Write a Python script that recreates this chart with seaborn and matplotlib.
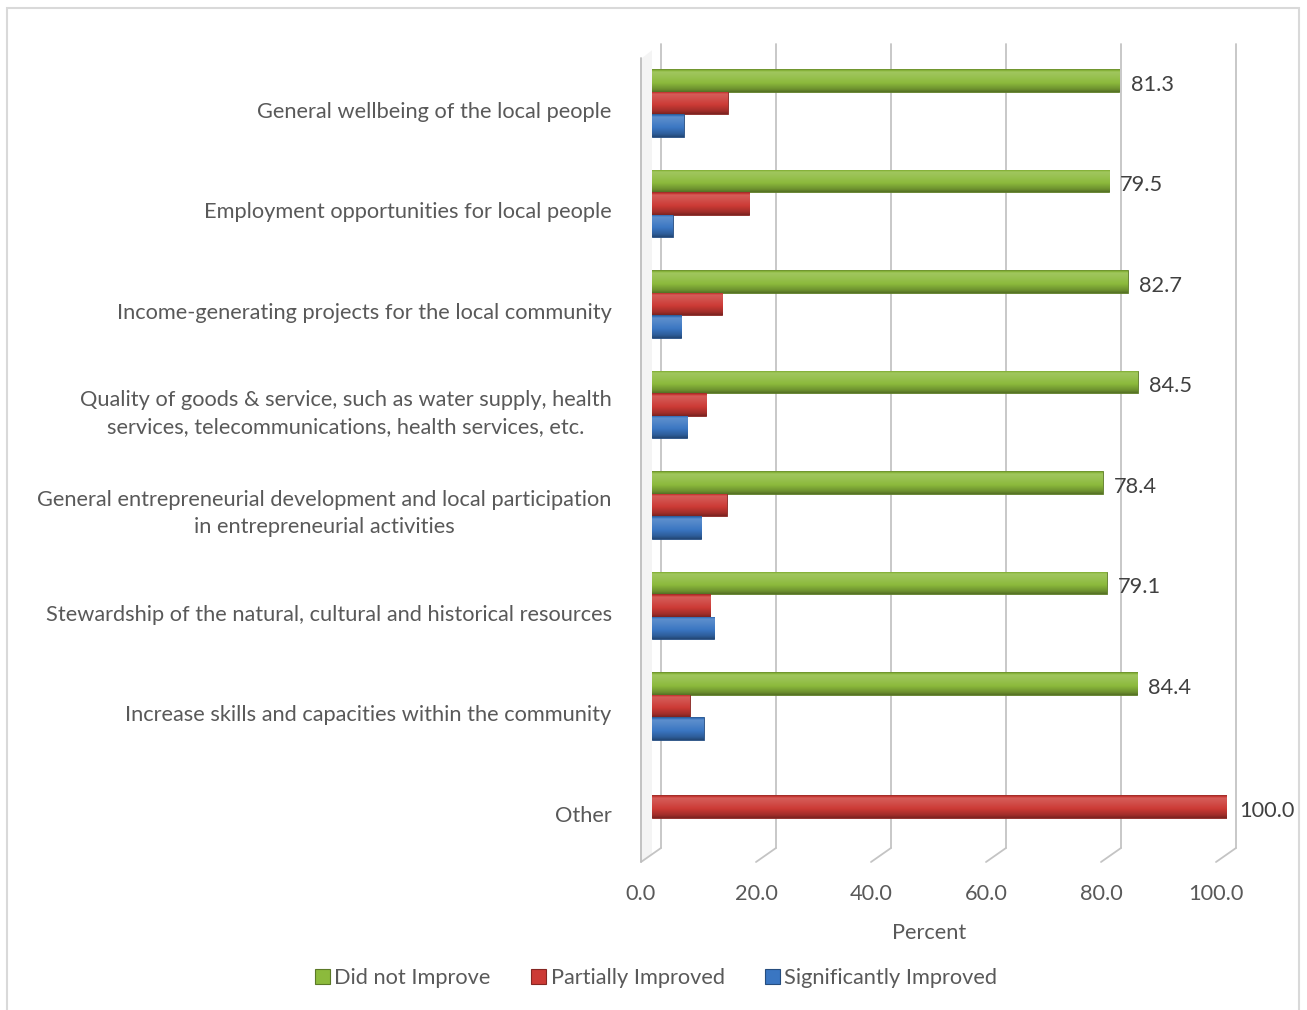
import numpy as np
import pandas as pd
import matplotlib
matplotlib.use("Agg")
import matplotlib.pyplot as plt
import matplotlib.transforms as mtransforms
from matplotlib.colors import to_rgb
from matplotlib.patches import Patch, FancyBboxPatch, Polygon
from matplotlib.lines import Line2D
import seaborn as sns

# ---- data -------------------------------------------------------------
categories = [
    "General wellbeing of the local people",
    "Employment opportunities for local people",
    "Income-generating projects for the local community",
    "Quality of goods & service, such as water supply, health\nservices, telecommunications, health services, etc.",
    "General entrepreneurial development and local participation\nin entrepreneurial activities",
    "Stewardship of the natural, cultural and historical resources",
    "Increase skills and capacities within the community",
    "Other",
]
series_names = ["Did not Improve", "Partially Improved", "Significantly Improved"]
did_not_improve = [81.3, 79.5, 82.7, 84.5, 78.4, 79.1, 84.4, 0.0]
partially_improved = [13.2, 16.9, 12.2, 9.4, 13.0, 10.1, 6.6, 100.0]
significantly_improved = [5.5, 3.6, 5.1, 6.1, 8.6, 10.8, 9.0, 0.0]
x_ticks = [0, 20, 40, 60, 80, 100]
x_label = "Percent"

series_colors = ["#8CBA3C", "#CC3A35", "#3A76C2"]
text_color = "#595959"
grid_color = "#C4C4C4"
FS = 15.7

df = pd.DataFrame({
    "category": np.repeat(categories, 3),
    "series": series_names * len(categories),
    "value": np.ravel(np.column_stack([did_not_improve, partially_improved,
                                       significantly_improved])),
})

# ---- figure -----------------------------------------------------------
sns.set_theme(style="white")
plt.rcParams["font.family"] = ["Lato", "DejaVu Sans"]

W, H, DPI = 1307, 1010, 100
fig = plt.figure(figsize=(W / DPI, H / DPI), dpi=DPI)
fig.patch.set_facecolor("white")

# plot area in pixels: x 652..1227, y 44..862
ax = fig.add_axes([652 / W, 1 - 862 / H, 575 / W, 818 / H])

sns.barplot(data=df, y="category", x="value", hue="series",
            hue_order=series_names, order=categories, orient="h",
            palette=series_colors, width=0.672, legend=False,
            saturation=1, ax=ax)

ax.set_xlim(0, 100)
ax.set_ylim(7.552, -0.587)
for s in ax.spines.values():
    s.set_visible(False)
ax.grid(False)


def shade(c, f):
    r = np.array(to_rgb(c))
    if f >= 0:
        return tuple(r + (1 - r) * f)
    return tuple(r * (1 + f))


# cylinder-like shading on every bar
bar_patches = [p for p in ax.patches if p.get_width() > 0]
for p in bar_patches:
    base = p.get_facecolor()[:3]
    x0, y0 = p.get_x(), p.get_y()
    w, h = p.get_width(), p.get_height()
    t = np.linspace(0, 1, 64)
    prof = np.interp(t, [0, 0.12, 0.3, 0.6, 0.88, 1.0],
                     [-0.25, 0.18, 0.12, 0.0, -0.22, -0.4])
    img = np.array([shade(base, f) for f in prof])[:, None, :]
    im = ax.imshow(img, extent=(x0, x0 + w, y0 + h, y0), aspect="auto",
                   origin="upper", zorder=3, interpolation="bilinear")
    im.set_clip_path(p)
    p.set_edgecolor(shade(base, -0.35))
    p.set_linewidth(0.6)
    p.set_zorder(2)

ax.set_xlim(0, 100)
ax.set_ylim(7.552, -0.587)

# ---- 3D-style back wall gridlines -------------------------------------
px = 1.0 / DPI
blend = mtransforms.blended_transform_factory(ax.transData, ax.transAxes)
back_y0 = 14 / 818
ax_bottom = ax.transAxes.transform((0, 0))[1]
ax_top = ax.transAxes.transform((0, 1))[1]
for v in x_ticks:
    tr = blend + mtransforms.ScaledTranslation(9 * px, 0, fig.dpi_scale_trans)
    ax.add_line(Line2D([v, v], [back_y0, 1.0], transform=tr, color=grid_color,
                       lw=1.3, zorder=1, clip_on=False))
    # slanted foot of each gridline
    x_disp = ax.transData.transform((v, 0))[0]
    fig.add_artist(Line2D([(x_disp - 11) / W, (x_disp + 9) / W],
                          [ax_bottom / H, (ax_bottom + 14) / H],
                          transform=fig.transFigure, color=grid_color, lw=1.3))

# left side wall (front edge + panel)
x0_disp = ax.transData.transform((0, 0))[0]
fig.add_artist(Line2D([(x0_disp - 11) / W, (x0_disp - 11) / W],
                      [ax_bottom / H, (ax_top - 14) / H],
                      transform=fig.transFigure, color="#BDBDBD", lw=1.3))
fig.add_artist(Polygon([((x0_disp - 10) / W, ax_bottom / H),
                        ((x0_disp + 8) / W, (ax_bottom + 14) / H),
                        ((x0_disp + 8) / W, ax_top / H),
                        ((x0_disp - 10) / W, (ax_top - 14) / H)],
                       closed=True, transform=fig.transFigure,
                       facecolor="#F4F4F4", edgecolor="none", zorder=0))

# ---- labels -----------------------------------------------------------
ax.set_xticks(x_ticks)
ax.set_xticklabels([f"{v:.1f}" for v in x_ticks])
ax.tick_params(axis="x", length=0, pad=16, labelsize=FS, labelcolor=text_color)
ax.tick_params(axis="y", length=0, pad=29, labelsize=FS, labelcolor=text_color)
shift_x = mtransforms.ScaledTranslation(-11 * px, 0, fig.dpi_scale_trans)
for lab in ax.get_xticklabels():
    lab.set_transform(lab.get_transform() + shift_x)
for lab in ax.get_yticklabels():
    dy = -3 if "\n" in lab.get_text() else -7
    lab.set_transform(lab.get_transform()
                      + mtransforms.ScaledTranslation(0, dy * px, fig.dpi_scale_trans))
    lab.set_multialignment("center")
    lab.set_linespacing(1.45)
ax.set_ylabel("")
ax.set_xlabel(x_label, fontsize=FS, color=text_color)
ax.xaxis.set_label_coords((929 - 652) / 575, -0.074)
ax.xaxis.label.set_va("top")

# value labels on the largest bar of each row
containers = ax.containers
green_labels = [f"{v:.1f}" if v > 0 else "" for v in did_not_improve]
red_labels = [f"{v:.1f}" if v >= 100 else "" for v in partially_improved]
value_texts = []
value_texts += ax.bar_label(containers[0], labels=green_labels, padding=8,
                            fontsize=FS, color="#404040")
value_texts += ax.bar_label(containers[1], labels=red_labels, padding=9,
                            fontsize=FS, color="#404040")
for t in value_texts:
    xo, yo = t.xyann
    t.xyann = (xo, yo - 3)

# ---- legend -----------------------------------------------------------
handles = [Patch(facecolor=c, edgecolor=shade(c, -0.35), linewidth=0.8)
           for c in series_colors]
fig.legend(handles, series_names, loc="center", ncol=3,
           bbox_to_anchor=(656 / W, 1 - 978 / H), frameon=False,
           fontsize=FS, labelcolor=text_color, handlelength=0.7,
           handleheight=0.7, handletextpad=0.2, columnspacing=1.85)

# chart border
fig.add_artist(FancyBboxPatch((6.5 / W, -0.02), (1299 - 6.5) / W, 1 - 7.5 / H + 0.02,
                              boxstyle="square,pad=0", transform=fig.transFigure,
                              facecolor="none", edgecolor="#D9D9D9", lw=1.5))

fig.savefig("out.png", dpi=DPI)
